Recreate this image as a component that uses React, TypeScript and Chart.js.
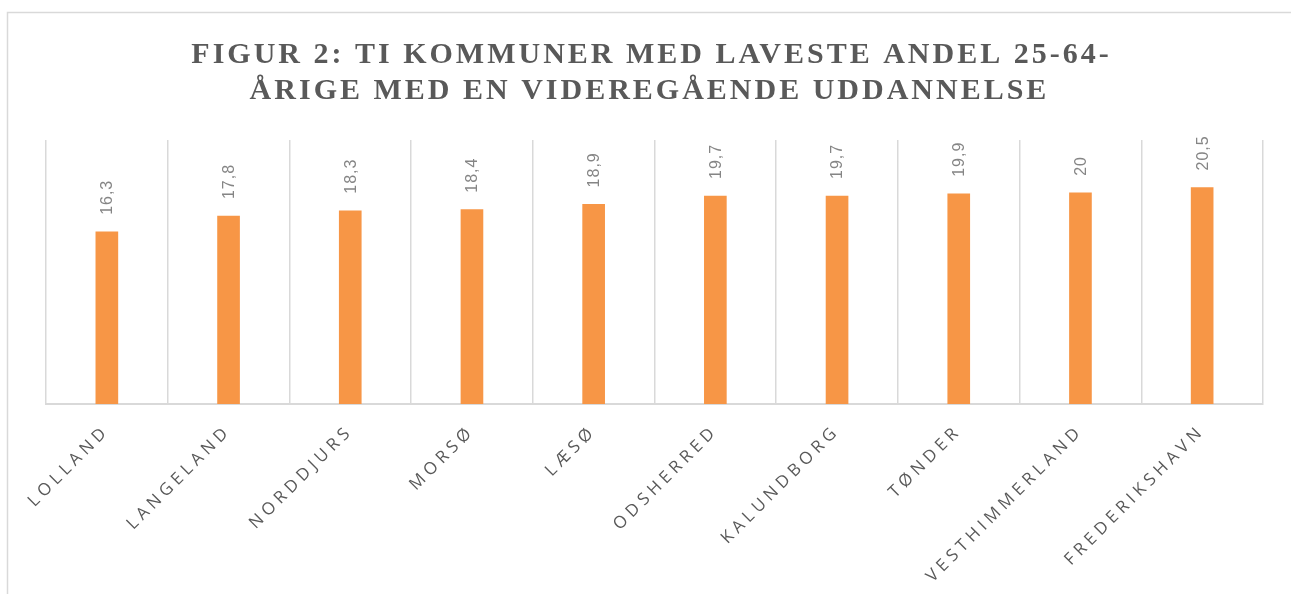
import { useEffect, useRef } from "react";
import { Chart, registerables } from "chart.js";

Chart.register(...registerables);

const titleLines = [
  "FIGUR 2: TI KOMMUNER MED LAVESTE ANDEL 25-64-",
  "ÅRIGE MED EN VIDEREGÅENDE UDDANNELSE",
];
const categories = [
  "LOLLAND",
  "LANGELAND",
  "NORDDJURS",
  "MORSØ",
  "LÆSØ",
  "ODSHERRED",
  "KALUNDBORG",
  "TØNDER",
  "VESTHIMMERLAND",
  "FREDERIKSHAVN",
];
const values = [16.3, 17.8, 18.3, 18.4, 18.9, 19.7, 19.7, 19.9, 20, 20.5];
const yMin = 0;
const yMax = 25;

const fmt = (v: number) => String(v).replace(".", ",");

export default function App() {
  const ref = useRef<HTMLCanvasElement | null>(null);

  useEffect(() => {
    const canvas = ref.current;
    if (!canvas) return;

    const decor = {
      id: "decor",
      beforeDraw(chart: any) {
        const ctx = chart.ctx as CanvasRenderingContext2D;
        ctx.save();
        ctx.strokeStyle = "#d9d9d9";
        ctx.lineWidth = 1.5;
        ctx.strokeRect(7.5, 12.5, 1400, 700);
        ctx.fillStyle = "#595959";
        ctx.font = "bold 30px 'Liberation Serif'";
        (ctx as any).letterSpacing = "3px";
        ctx.textAlign = "center";
        ctx.textBaseline = "alphabetic";
        ctx.fillText(titleLines[0], 650 + 1.5, 63);
        ctx.fillText(titleLines[1], 648 + 1.5, 99);
        ctx.restore();
        (ctx as any).letterSpacing = "4.5px";
      },
      beforeDatasetsDraw(chart: any) {
        (chart.ctx as any).letterSpacing = "0px";
      },
      afterDatasetsDraw(chart: any) {
        const ctx = chart.ctx as CanvasRenderingContext2D;
        const meta = chart.getDatasetMeta(0);
        ctx.save();
        ctx.fillStyle = "#858585";
        ctx.font = "16px 'Liberation Sans'";
        (ctx as any).letterSpacing = "1px";
        ctx.textAlign = "left";
        ctx.textBaseline = "middle";
        meta.data.forEach((bar: any, i: number) => {
          ctx.save();
          ctx.translate(bar.x + 1, bar.y - 17);
          ctx.rotate(-Math.PI / 2);
          ctx.fillText(fmt(values[i]), 0, 0);
          ctx.restore();
        });
        ctx.restore();
        (ctx as any).letterSpacing = "0px";
      },
    };

    const chart = new Chart(canvas, {
      type: "bar",
      data: {
        labels: categories,
        datasets: [
          {
            data: values,
            backgroundColor: "#F79646",
            borderWidth: 0,
            barThickness: 22,
          },
        ],
      },
      options: {
        animation: false,
        responsive: false,
        maintainAspectRatio: false,
        layout: { padding: { left: 46, right: 28, top: 140, bottom: 0 } },
        plugins: {
          legend: { display: false },
          title: { display: false },
          tooltip: { enabled: false },
        },
        scales: {
          x: {
            offset: true,
            grid: {
              display: true,
              offset: true,
              color: "#d9d9d9",
              lineWidth: 1.5,
              drawTicks: false,
            },
            border: { display: true, color: "#d9d9d9", width: 2 },
            ticks: {
              autoSkip: false,
              minRotation: 45,
              maxRotation: 45,
              padding: 17,
              color: "#595959",
              font: { family: "'Open Sans', sans-serif", size: 17 },
            },
            afterFit: (scale: any) => {
              scale.height = 190;
            },
          },
          y: {
            display: false,
            min: yMin,
            max: yMax,
          },
        },
      },
      plugins: [decor],
    });

    return () => chart.destroy();
  }, []);

  return (
    <div style={{ position: "fixed", left: 0, top: 0, width: 1291, height: 594, background: "#fff" }}>
      <canvas ref={ref} width={1291} height={594} style={{ display: "block", width: 1291, height: 594 }} />
    </div>
  );
}
